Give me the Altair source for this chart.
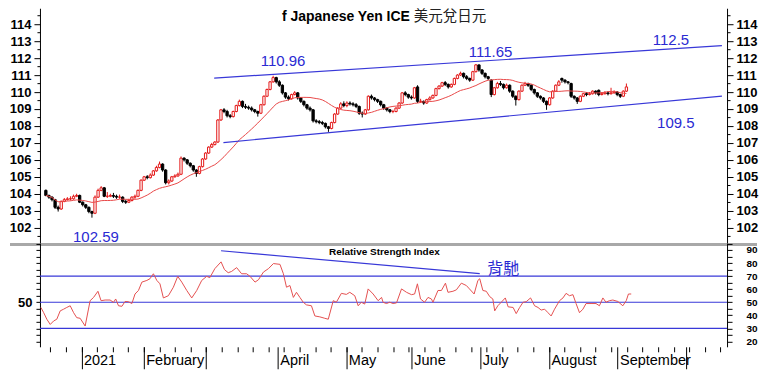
import altair as alt
import pandas as pd

# ---------------- data (trading-day index: 0 = Mon 14 Dec 2020) ----------------
FIRST_IDX = 2

opens = [
    104.20, 103.90, 103.80, 103.65, 103.20, 103.10, 103.55, 103.65, 103.70, 103.70,
    103.85, 103.90, 103.50, 103.35, 103.20, 102.95, 102.85, 103.80, 104.20, 104.35,
    103.85, 103.85, 103.90, 103.85, 103.80, 103.80, 103.55, 103.50, 103.60, 103.80,
    103.85, 104.20, 104.80, 105.00, 104.95, 105.10, 105.35, 105.55, 105.75, 105.40,
    104.65, 104.75, 105.00, 105.05, 105.15, 106.10, 106.00, 105.80, 105.65, 105.40,
    105.20, 105.60, 106.05, 106.40, 106.75, 106.90, 107.05, 108.35, 108.95, 108.85,
    108.60, 108.55, 108.85, 109.20, 109.45, 109.15, 109.10, 109.05, 108.95, 108.85,
    108.75, 109.25, 109.75, 110.15, 110.60, 110.85, 110.60, 110.40, 109.95, 109.70,
    109.60, 109.85, 109.95, 109.65, 109.45, 109.25, 109.05, 108.95, 108.30, 108.25,
    108.20, 108.15, 107.95, 107.85, 108.20, 108.70, 109.05, 109.30, 109.20, 109.35,
    109.30, 109.25, 109.15, 108.75, 108.70, 108.95, 109.75, 109.65, 109.55, 109.45,
    109.25, 109.05, 108.95, 108.85, 108.85, 109.05, 109.35, 109.95, 109.85, 109.70,
    109.65, 110.30, 109.45, 109.45, 109.35, 109.55, 109.65, 109.80, 110.20, 110.35,
    110.55, 110.45, 110.30, 110.45, 110.80, 111.00, 111.10, 110.90, 110.80, 110.70,
    111.20, 111.60, 111.30, 111.10, 110.90, 110.70, 109.85, 110.25, 110.50, 110.45,
    110.25, 110.40, 110.05, 109.75, 109.55, 110.05, 110.40, 110.50, 110.40, 110.15,
    109.95, 109.75, 109.65, 109.45, 109.25, 109.65, 110.05, 110.40, 110.80, 110.70,
    110.60, 110.50, 109.75, 109.65, 109.45, 109.75, 109.90, 109.85, 109.90, 110.05,
    110.10, 109.85, 109.90, 109.95, 109.90, 109.95, 110.00, 109.85, 109.75, 110.05,
]
highs = [
    104.25, 103.95, 103.85, 103.70, 103.30, 103.60, 103.75, 103.80, 103.85, 103.95,
    104.00, 103.95, 103.55, 103.40, 103.25, 103.00, 103.90, 104.30, 104.45, 104.40,
    104.10, 104.00, 104.05, 103.95, 103.95, 103.85, 103.65, 103.70, 103.85, 103.95,
    104.25, 104.85, 105.05, 105.10, 105.20, 105.40, 105.65, 105.90, 105.80, 105.45,
    104.85, 105.05, 105.15, 105.25, 106.20, 106.15, 106.05, 105.85, 105.70, 105.45,
    105.65, 106.10, 106.45, 106.80, 107.00, 107.10, 108.40, 109.00, 109.05, 108.95,
    108.70, 108.90, 109.25, 109.55, 109.50, 109.30, 109.20, 109.15, 109.00, 108.90,
    109.30, 109.80, 110.20, 110.65, 110.96, 110.90, 110.70, 110.45, 110.00, 109.80,
    109.90, 110.05, 110.00, 109.70, 109.50, 109.30, 109.15, 109.00, 108.40, 108.35,
    108.30, 108.20, 108.00, 108.25, 108.75, 109.10, 109.40, 109.45, 109.45, 109.45,
    109.40, 109.35, 109.20, 108.85, 109.00, 109.80, 109.85, 109.70, 109.60, 109.50,
    109.30, 109.10, 109.00, 108.95, 109.10, 109.40, 110.00, 110.05, 109.90, 109.80,
    110.30, 110.40, 109.60, 109.50, 109.60, 109.75, 109.85, 110.25, 110.40, 110.60,
    110.65, 110.50, 110.50, 110.85, 111.05, 111.20, 111.15, 111.00, 110.85, 111.25,
    111.65, 111.60, 111.35, 111.15, 110.95, 110.75, 110.30, 110.60, 110.65, 110.50,
    110.50, 110.45, 110.10, 109.80, 110.10, 110.45, 110.60, 110.55, 110.45, 110.20,
    110.00, 109.80, 109.70, 109.50, 109.70, 110.10, 110.45, 110.70, 110.85, 110.75,
    110.65, 110.55, 109.80, 109.70, 109.80, 109.95, 110.00, 110.00, 110.10, 110.10,
    110.15, 110.00, 110.05, 110.05, 110.25, 110.10, 110.05, 109.90, 110.10, 110.50,
]
lows = [
    103.85, 103.70, 103.55, 103.10, 102.95, 103.05, 103.50, 103.60, 103.60, 103.65,
    103.80, 103.45, 103.25, 103.10, 102.85, 102.59, 102.80, 103.75, 104.15, 103.80,
    103.75, 103.80, 103.75, 103.70, 103.70, 103.45, 103.40, 103.45, 103.55, 103.70,
    103.80, 104.15, 104.75, 104.85, 104.90, 105.05, 105.30, 105.50, 105.30, 104.55,
    104.55, 104.70, 104.95, 105.00, 105.10, 105.90, 105.70, 105.55, 105.30, 105.00,
    105.15, 105.55, 106.00, 106.35, 106.70, 106.85, 107.00, 108.30, 108.75, 108.50,
    108.45, 108.50, 108.80, 109.15, 109.05, 109.00, 108.95, 108.85, 108.75, 108.55,
    108.70, 109.20, 109.70, 110.10, 110.55, 110.50, 110.30, 109.85, 109.60, 109.50,
    109.55, 109.80, 109.55, 109.35, 109.15, 108.95, 108.85, 108.20, 108.15, 108.10,
    108.05, 107.85, 107.65, 107.80, 108.15, 108.65, 109.00, 109.10, 109.10, 109.20,
    109.15, 109.05, 108.65, 108.50, 108.65, 108.90, 109.55, 109.45, 109.35, 109.15,
    108.95, 108.85, 108.75, 108.75, 108.80, 109.00, 109.30, 109.75, 109.60, 109.55,
    109.60, 109.35, 109.35, 109.25, 109.30, 109.50, 109.60, 109.75, 110.15, 110.30,
    110.35, 110.20, 110.25, 110.40, 110.75, 110.95, 110.80, 110.70, 110.60, 110.65,
    111.15, 111.20, 111.00, 110.80, 110.70, 109.70, 109.80, 110.20, 110.35, 110.15,
    110.20, 109.95, 109.65, 109.20, 109.50, 110.00, 110.35, 110.30, 110.05, 109.85,
    109.65, 109.55, 109.35, 108.95, 109.20, 109.60, 110.00, 110.35, 110.55, 110.50,
    110.45, 109.65, 109.55, 109.30, 109.40, 109.70, 109.75, 109.80, 109.85, 109.85,
    109.75, 109.80, 109.85, 109.80, 109.85, 109.90, 109.75, 109.65, 109.70, 110.00,
]
closes = [
    103.90, 103.80, 103.65, 103.20, 103.10, 103.55, 103.65, 103.70, 103.70, 103.85,
    103.90, 103.50, 103.35, 103.20, 102.95, 102.85, 103.80, 104.20, 104.35, 103.85,
    103.85, 103.90, 103.85, 103.80, 103.80, 103.55, 103.50, 103.60, 103.80, 103.85,
    104.20, 104.80, 105.00, 104.95, 105.10, 105.35, 105.55, 105.75, 105.40, 104.65,
    104.75, 105.00, 105.05, 105.15, 106.10, 106.00, 105.80, 105.65, 105.40, 105.20,
    105.60, 106.05, 106.40, 106.75, 106.90, 107.05, 108.35, 108.95, 108.85, 108.60,
    108.55, 108.85, 109.20, 109.45, 109.15, 109.10, 109.05, 108.95, 108.85, 108.75,
    109.25, 109.75, 110.15, 110.60, 110.85, 110.60, 110.40, 109.95, 109.70, 109.60,
    109.85, 109.95, 109.65, 109.45, 109.25, 109.05, 108.95, 108.30, 108.25, 108.20,
    108.15, 107.95, 107.85, 108.20, 108.70, 109.05, 109.30, 109.20, 109.35, 109.30,
    109.25, 109.15, 108.75, 108.70, 108.95, 109.75, 109.65, 109.55, 109.45, 109.25,
    109.05, 108.95, 108.85, 108.85, 109.05, 109.35, 109.95, 109.85, 109.70, 109.65,
    110.25, 109.45, 109.45, 109.35, 109.55, 109.65, 109.80, 110.20, 110.35, 110.55,
    110.45, 110.30, 110.45, 110.80, 111.00, 111.10, 110.90, 110.80, 110.70, 111.20,
    111.60, 111.30, 111.10, 110.90, 110.80, 109.85, 110.25, 110.50, 110.45, 110.25,
    110.40, 110.05, 109.75, 109.55, 110.05, 110.40, 110.50, 110.40, 110.15, 109.95,
    109.75, 109.65, 109.45, 109.25, 109.65, 110.05, 110.40, 110.60, 110.70, 110.60,
    110.55, 109.75, 109.65, 109.45, 109.75, 109.90, 109.85, 109.90, 110.05, 109.95,
    109.85, 109.90, 109.95, 109.90, 109.95, 110.00, 109.85, 109.75, 110.05, 110.30,
]
MA_WINDOW = 20

upper_idx = [56.8, 222.1]
upper_val = [110.82, 112.73]
lower_idx = [59.8, 222.1]
lower_val = [107.02, 109.76]

ann_text = ["110.96", "111.65", "112.5", "109.5", "102.59"]
ann_idx = [79.2, 146.8, 205.5, 207.1, 18.3]
ann_val = [111.84, 112.33, 113.08, 108.18, 101.45]

title_en = "f Japanese Yen ICE"
title_zh = "美元兌日元"

rsi_idx = [
    2.0, 2.9, 3.9, 5.0, 6.1, 7.1, 8.2, 9.3, 10.3, 11.4,
    12.5, 13.5, 14.6, 16.2, 17.8, 18.9, 20.3, 21.3, 22.6, 24.2,
    25.3, 26.0, 26.9, 28.0, 29.0, 30.1, 31.2, 32.2, 33.3, 34.4,
    36.0, 37.0, 38.1, 39.2, 40.2, 41.3, 42.9, 44.5, 45.9, 47.2,
    48.8, 50.4, 52.0, 53.6, 55.2, 56.2, 57.8, 59.8, 60.9, 62.1,
    63.2, 64.8, 66.4, 68.0, 69.1, 70.7, 71.8, 73.4, 75.0, 76.6,
    78.7, 79.8, 80.8, 81.9, 83.0, 84.0, 85.1, 86.2, 87.2, 88.8,
    89.9, 91.5, 93.1, 94.2, 95.8, 96.8, 98.4, 100.0, 101.1, 102.7,
    103.8, 104.8, 105.9, 107.0, 108.6, 110.2, 111.3, 111.8, 112.9, 113.9,
    115.0, 116.1, 117.7, 119.3, 120.9, 121.9, 122.8, 123.8, 125.1, 126.2,
    127.3, 127.8, 129.4, 130.5, 131.8, 132.6, 134.2, 135.3, 136.9, 138.5,
    139.5, 141.0, 142.2, 142.8, 143.8, 144.9, 146.0, 147.0, 147.6, 148.6,
    149.7, 151.0, 151.9, 153.5, 154.5, 155.6, 156.7, 157.7, 159.1, 160.4,
    161.5, 162.5, 163.6, 164.7, 165.7, 166.8, 168.4, 169.5, 170.5, 171.6,
    172.7, 173.7, 174.8, 175.9, 176.9, 178.5, 180.1, 181.2, 182.3, 183.3,
    184.4, 185.5, 187.1, 188.7, 189.8, 190.5, 191.4,
]
rsi_val = [
    46, 42, 37, 33, 35.7, 37, 43.4, 44.7, 46, 47.3,
    42, 38.2, 37.7, 31.8, 51.2, 53.7, 58.4, 51.2, 51.7, 51.7,
    49.9, 52.5, 47.3, 46.9, 50.6, 50.4, 49, 56.3, 59, 65.4,
    66.7, 68, 71.8, 66.7, 64.1, 53.3, 55, 61.5, 69.8, 65.4,
    59, 53.3, 59, 66.7, 69.8, 68.8, 75.7, 80.9, 75, 72.6,
    73.6, 76.5, 71.8, 71.8, 69.8, 65.4, 67.2, 73.1, 75.7, 79.6,
    79, 71.8, 61.5, 62.8, 53.7, 57.6, 53.7, 49.9, 48, 47.3,
    39.5, 38.8, 37.7, 37, 51.2, 50, 56.8, 56, 57.6, 55,
    47.3, 50, 48.6, 60.2, 56.3, 51.2, 53.7, 49.9, 49, 50,
    49, 49.5, 60.2, 57.6, 55.8, 56.3, 64.1, 52.5, 50, 53.7,
    52.5, 50, 59, 59, 64.6, 57.6, 58.4, 59.5, 64.6, 62.8,
    60.2, 56.3, 66.7, 68, 59, 58.4, 54.3, 52.5, 43.4, 47.3,
    50, 53.3, 46.5, 46, 41.3, 46, 50, 50.4, 53.3, 47.3,
    46, 44, 44.7, 42, 39.5, 44.7, 51.2, 53.3, 56.8, 55,
    55.8, 49, 42, 44.7, 49, 49, 49, 47.3, 53.3, 50,
    51.2, 51.7, 50.6, 47.3, 51.2, 56.3, 56.3,
]
rsi_levels = [30, 50, 70]
div_idx = [59.8, 142.8]
div_val = [89.4, 71.9]
rsi_title = "Relative Strength Index"
rsi_title_pos = (112.2, 88.4)
beichi = "背馳"
beichi_pos = (145.2, 75.2)

month_idx = [15, 35, 55, 78, 100, 121, 143, 165, 187, 209]
month_lbl = ["2021", "February", "", "April", "May", "June", "July", "August", "September", ""]
week_idx = list(range(5, 221, 5))
price_ticks = [101.5 + 0.5 * i for i in range(27)]
rsi_ticks = list(range(20, 96, 5))

# ---------------- styling / layout ----------------
FONT = "Liberation Sans, Arial, sans-serif"
CJK = "Noto Sans CJK TC"
RED = "#e41a1a"
MA_RED = "#e84848"
RSI_RED = "#e45050"
BLUE = "#3838d8"
TEXT_BLUE = "#2a2ad2"

W, HM, HR = 688, 235, 104
xs = alt.Scale(domain=[1.7, 222.14], nice=False, zero=False)
ps = alt.Scale(domain=[101.1, 114.94], nice=False, zero=False)
rs = alt.Scale(domain=[15.9, 95.4], nice=False, zero=False)

df = pd.DataFrame({
    "idx": list(range(FIRST_IDX, FIRST_IDX + len(closes))),
    "open": opens, "high": highs, "low": lows, "close": closes,
})
trend_df = pd.DataFrame({
    "line": ["upper"] * len(upper_idx) + ["lower"] * len(lower_idx),
    "idx": upper_idx + lower_idx,
    "val": upper_val + lower_val,
})
ann_df = pd.DataFrame({"txt": ann_text, "idx": ann_idx, "val": ann_val})
title_df = pd.DataFrame({"txt": [title_en, title_zh], "idx": [120.5, 121.8], "val": [114.4, 114.4]})
rsi_df = pd.DataFrame({"idx": rsi_idx, "val": rsi_val})
div_df = pd.DataFrame({"idx": div_idx, "val": div_val})
lvl_df = pd.DataFrame({"lvl": rsi_levels})
rtxt_df = pd.DataFrame({"txt": [rsi_title], "idx": [rsi_title_pos[0]], "val": [rsi_title_pos[1]]})
btxt_df = pd.DataFrame({"txt": [beichi], "idx": [beichi_pos[0]], "val": [beichi_pos[1]]})

minor_size = {"condition": {"test": "datum.value % 1 != 0", "value": 3}, "value": 6}
axis_common = dict(title=None, grid=False, labelFont=FONT, labelColor="black",
                   domainColor="black", tickColor="black", labelOverlap=False)

left_price_axis = alt.Axis(orient="left", values=price_ticks, tickSize=minor_size,
                           labelExpr="datum.value % 1 == 0 ? format(datum.value, 'd') : ''",
                           labelFontSize=13, labelFontWeight="bold", labelPadding=3, **axis_common)
right_price_axis = alt.Axis(orient="right", values=price_ticks, tickSize=minor_size,
                            labelExpr="datum.value % 1 == 0 ? format(datum.value, 'd') : ''",
                            labelFontSize=13, labelFontWeight="bold", labelPadding=3, **axis_common)
left_rsi_axis = alt.Axis(orient="left", values=rsi_ticks, tickSize=4,
                         labelExpr="datum.value == 50 ? '50' : ''",
                         labelFontSize=13, labelFontWeight="bold", labelPadding=4, **axis_common)
right_rsi_axis = alt.Axis(orient="right", values=rsi_ticks, tickSize=5,
                          labelExpr="datum.value % 10 == 0 && datum.value <= 90 ? format(datum.value, 'd') : ''",
                          labelFontSize=10, labelFontWeight="bold", labelAlign="right",
                          labelPadding=25, **axis_common)
minor_x_axis = alt.Axis(orient="bottom", values=week_idx, tickSize=5, labels=False,
                        domain=False, title=None, grid=False, tickColor="black")
mexpr = "''"
for v, name in reversed(list(zip(month_idx, month_lbl))):
    mexpr = f"datum.value == {v} ? '{name}' : ({mexpr})"
month_x_axis = alt.Axis(orient="bottom", values=month_idx, tickSize=22, labelExpr=mexpr,
                        labelAlign="left", labelBaseline="top", labelPadding=-15, labelOffset=2,
                        labelFontSize=14.5, labelFlush=False, domain=False, title=None, grid=False,
                        tickColor="black", labelColor="black", labelFont=FONT, labelOverlap=False)


def X(axis=None):
    return alt.X("idx:Q", scale=xs, axis=axis, title=None)


up = "datum.close >= datum.open"

# ---------------- price panel ----------------
sep = alt.Chart(pd.DataFrame({"k": [0]})).mark_rule(color="#a8a8a8", strokeWidth=3).encode(
    x=alt.value(-30), x2=alt.value(W + 30), y=alt.value(HM + 1.5), y2=alt.value(HM + 1.5))

wick = alt.Chart(df).mark_rule(strokeWidth=1).encode(
    x=X(), y=alt.Y("low:Q", scale=ps, axis=left_price_axis, title=None), y2="high:Q",
    color=alt.condition(up, alt.value(RED), alt.value("black")))

body = alt.Chart(df).mark_bar(size=2.3, strokeWidth=1).encode(
    x=X(), y=alt.Y("open:Q", scale=ps, axis=None), y2="close:Q",
    fill=alt.condition(up, alt.value("white"), alt.value("black")),
    stroke=alt.condition(up, alt.value(RED), alt.value("black")))

ma = alt.Chart(df).transform_window(
    ma="mean(close)", frame=[-(MA_WINDOW - 1), 0], sort=[alt.SortField("idx")]
).mark_line(color=MA_RED, strokeWidth=1).encode(
    x=X(), y=alt.Y("ma:Q", scale=ps, axis=None))

ann = alt.Chart(ann_df).mark_text(font=FONT, fontSize=15, color=TEXT_BLUE).encode(
    x=X(), y=alt.Y("val:Q", scale=ps, axis=None), text="txt:N")

t_en = alt.Chart(title_df.iloc[[0]]).mark_text(
    font=FONT, fontSize=14, fontWeight="bold", color="black", align="right", baseline="middle"
).encode(x=X(), y=alt.Y("val:Q", scale=ps, axis=None), text="txt:N")
t_zh = alt.Chart(title_df.iloc[[1]]).mark_text(
    font=CJK, fontSize=14.5, color="#222222", align="left", baseline="middle"
).encode(x=X(), y=alt.Y("val:Q", scale=ps, axis=None), text="txt:N")

trend = alt.Chart(trend_df).mark_line(color=BLUE, strokeWidth=1.2).encode(
    x=X(), y=alt.Y("val:Q", scale=ps, axis=right_price_axis, title=None), detail="line:N")

main = alt.layer(
    sep, wick, body, ma, ann, t_en, t_zh, trend
).resolve_scale(y="independent").properties(width=W, height=HM)

# ---------------- RSI panel ----------------
hl = alt.Chart(lvl_df).mark_rule(color=BLUE, strokeWidth=1.2).encode(
    y=alt.Y("lvl:Q", scale=rs, axis=left_rsi_axis, title=None))
div = alt.Chart(div_df).mark_line(color=BLUE, strokeWidth=1.2).encode(
    x=X(minor_x_axis), y=alt.Y("val:Q", scale=rs, axis=None))
rtitle = alt.Chart(rtxt_df).mark_text(font=FONT, fontSize=10, fontWeight="bold", color="black").encode(
    x=X(), y=alt.Y("val:Q", scale=rs, axis=None), text="txt:N")
btxt = alt.Chart(btxt_df).mark_text(font=CJK, fontSize=16, color=TEXT_BLUE, align="left").encode(
    x=X(), y=alt.Y("val:Q", scale=rs, axis=None), text="txt:N")
rline = alt.Chart(rsi_df).mark_line(color=RSI_RED, strokeWidth=1).encode(
    x=X(month_x_axis), y=alt.Y("val:Q", scale=rs, axis=right_rsi_axis, title=None))

rsi = alt.layer(
    hl, div, rtitle, btxt, rline
).resolve_scale(x="independent", y="independent").properties(width=W, height=HR)

chart = alt.vconcat(main, rsi, spacing=0, bounds="flush").properties(
    padding=0, background="white"
).configure_view(stroke=None)

chart.save("out.html", embed_options={"renderer": "svg", "actions": False})
